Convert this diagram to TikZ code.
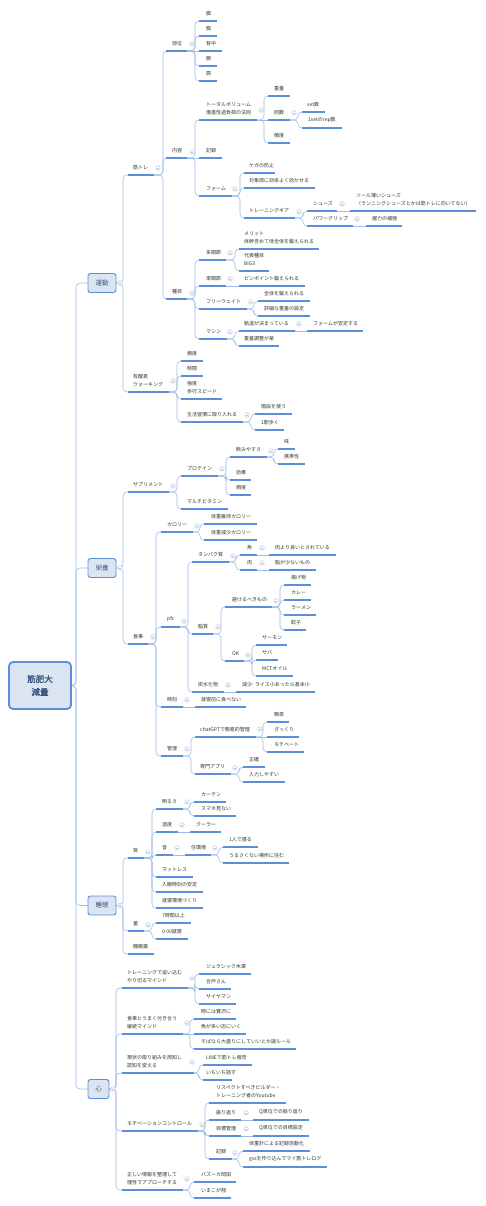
\documentclass[tikz,border=0pt]{standalone}
\usepackage{fontspec}
\newfontfamily\jp[AutoFakeBold=1.5]{Noto Sans CJK JP}
\pgfdeclarelayer{bg}
\pgfsetlayers{bg,main}
\definecolor{ulcol}{HTML}{5B8FD9}
\definecolor{cncol}{HTML}{9DBBE6}
\definecolor{ccol}{HTML}{AAC0DE}
\definecolor{boxfill}{HTML}{DBE4F1}
\definecolor{boxtext}{HTML}{3B5680}
\definecolor{textcol}{HTML}{333333}
\tikzset{
  ul/.style={draw=ulcol, line width=1.1pt},
  cnl/.style={draw=cncol, line width=0.6pt, rounded corners=4pt},
  tx/.style={anchor=south west, inner sep=0pt, align=left, text=textcol, font=\jp\fontsize{5}{8.3}\selectfont},
  cc/.style={circle, draw=ccol, line width=0.4pt, fill=white, minimum size=4.6pt, inner sep=0pt,
    path picture={\draw[ccol, line width=0.4pt] ([xshift=-1.2pt]path picture bounding box.center) -- ([xshift=1.2pt]path picture bounding box.center);}},
  mbox/.style={draw=ulcol, line width=0.9pt, fill=boxfill, rounded corners=2.5pt, text=boxtext,
    font=\jp\fontsize{6.5}{8}\selectfont, minimum width=28pt, minimum height=19pt, inner sep=0pt},
  rootbox/.style={draw=ulcol, line width=1.8pt, fill=boxfill, rounded corners=4pt, text=boxtext, align=center,
    font=\jp\bfseries\fontsize{8.5}{13}\selectfont, minimum width=62pt, minimum height=47pt, inner sep=0pt}
}
% leaf: name tx ly x1 x2 text
\newcommand\lfn[6]{%
  \coordinate (#1-s) at (#4,#3); \coordinate (#1-e) at (#5,#3);
  \draw[ul] (#1-s) -- (#1-e);
  \node[tx] (#1) at (#2,#3-5) {#6};}
% parent: name tx ly x1 x2 spine cx cy text
\newcommand\pnd[9]{%
  \lfn{#1}{#2}{#3}{#4}{#5}{#9}
  \coordinate (#1-sp) at (#6,#3);
  \node[cc] (#1-c) at (#7,#8) {};}
\newcommand\cnx[2]{\begin{pgfonlayer}{bg}\draw[cnl] (#1-e) -- (#1-sp) |- (#2-s);\end{pgfonlayer}}
\newcommand\cst[2]{\begin{pgfonlayer}{bg}\draw[cnl] (#1-e) -- (#2-s);\end{pgfonlayer}}
\newcommand\cbx[2]{\begin{pgfonlayer}{bg}\draw[cnl] (#1.east) -- (#1-sp) |- (#2-s);\end{pgfonlayer}}
\begin{document}
\begin{tikzpicture}[x=1pt, y=-1pt]
\begin{pgfonlayer}{bg}
\fill[white] (0,0) rectangle (485,1206);
\end{pgfonlayer}
\useasboundingbox (0,0) rectangle (485,1206);

% root and main branches
\node[rootbox] (root) at (40,685.5) {筋肥大\\減量};
\node[mbox] (undo) at (102,283) {運動};
\node[mbox] (eiyo) at (102,568) {栄養};
\node[mbox] (suimin) at (102,905.5) {睡眠};
\node[mbox, minimum width=21pt] (kokoro) at (98.5,1089) {心};
\coordinate (trunk) at (76,685.5);
\begin{pgfonlayer}{bg}
\draw[cnl] (root.east) -- (trunk) |- (undo.west);
\draw[cnl] (root.east) -- (trunk) |- (eiyo.west);
\draw[cnl] (root.east) -- (trunk) |- (suimin.west);
\draw[cnl] (root.east) -- (trunk) |- (kokoro.west);
\end{pgfonlayer}
\coordinate (undo-sp) at (123,283);
\coordinate (eiyo-sp) at (123,568);
\coordinate (suimin-sp) at (123,905.5);
\coordinate (kokoro-sp) at (116,1089);
\node[cc] (undo-c) at (120,283) {};
\node[cc] (eiyo-c) at (120,568) {};
\node[cc] (suimin-c) at (120,905.5) {};
\node[cc] (kokoro-c) at (113,1089) {};

% ===== 運動 =====
\pnd{kintore}{133}{175}{128}{154}{163}{158}{168}{筋トレ}
\pnd{bui}{172}{51}{166}{187}{195}{192}{44}{部位}
\lfn{ashi}{206}{21}{199}{217}{脚}
\lfn{mune}{206}{36}{199}{217}{胸}
\lfn{senaka}{206}{51}{199}{222}{背中}
\lfn{ude}{206}{66}{199}{217}{腕}
\lfn{kata}{206}{81}{199}{217}{肩}
\pnd{naiyo}{172}{158}{166}{187}{195}{192}{152}{内容}
\pnd{total}{206}{120}{199}{257}{264}{261}{110}{トータルボリューム\\漸進性過負荷の法則}
\lfn{juryo}{274}{96}{268}{290}{重量}
\pnd{kaisu}{274}{120}{268}{290}{298}{294}{113}{回数}
\lfn{setsu}{307}{112}{302}{325}{set数}
\lfn{rep}{308}{128}{302}{342}{1setのrep数}
\lfn{hindoa}{274}{143}{268}{290}{頻度}
\lfn{kirokua}{206}{158}{199}{222}{記録}
\pnd{form}{206}{196}{199}{232}{240}{235}{189}{フォーム}
\lfn{kega}{249}{173}{244}{275}{ケガの防止}
\lfn{taisho}{249}{188}{244}{315}{対象部に効率よく効かせる}
\pnd{gear}{249}{218}{244}{295}{303}{299}{212}{トレーニングギア}
\pnd{shoes}{313}{211}{307}{337}{343}{342}{204}{シューズ}
\lfn{sole}{356}{211}{350}{476}{ソール薄いシューズ\\（ランニングシューズとかは筋トレに向いてない）}
\pnd{grip}{313}{226}{307}{353}{360}{357}{219}{パワーグリップ}
\lfn{akuryoku}{372}{226}{366}{402}{握力の補強}
\pnd{shumoku}{172}{299}{166}{187}{195}{192}{293}{種目}
\pnd{takan}{206}{260}{199}{226}{235}{230}{253}{多関節}
\lfn{merit}{244}{249}{239}{319}{メリット\\体幹含めて体全体を鍛えられる}
\lfn{daihyo}{244}{271}{239}{269}{代表種目\\BIG3}
\pnd{tankan}{206}{286}{199}{226}{235}{230}{279}{単関節}
\lfn{pinpoint}{244}{286}{239}{305}{ピンポイント鍛えられる}
\pnd{free}{206}{309}{199}{247}{254}{251}{302}{フリーウェイト}
\lfn{zentai}{264}{301}{258}{310}{全体を鍛えられる}
\lfn{shosai}{264}{316}{258}{310}{詳細な重量の設定}
\pnd{machine}{206}{339}{199}{227}{235}{230}{332}{マシン}
\pnd{kido}{244}{331}{239}{295}{303}{299}{324}{軌道が決まっている}
\lfn{antei}{313}{331}{307}{363}{フォームが安定する}
\lfn{chosei}{244}{346}{239}{279}{重量調整が楽}
\pnd{yusanso}{133}{392}{128}{169}{177}{173}{381}{有酸素\\ウォーキング}
\lfn{hindob}{187}{361}{181}{203}{頻度}
\lfn{jikan}{187}{376}{181}{203}{時間}
\lfn{kyodo}{187}{399}{181}{222}{強度\\歩行スピード}
\pnd{seikatsu}{187}{422}{181}{243}{251}{247}{415}{生活習慣に取り入れる}
\lfn{kaidan}{261}{414}{255}{292}{階段を使う}
\lfn{ekiaruku}{261}{430}{255}{284}{1駅歩く}

\cbx{undo}{kintore} \cbx{undo}{yusanso}
\cnx{kintore}{bui} \cnx{kintore}{naiyo} \cnx{kintore}{shumoku}
\cnx{bui}{ashi} \cnx{bui}{mune} \cst{bui}{senaka} \cnx{bui}{ude} \cnx{bui}{kata}
\cnx{naiyo}{total} \cst{naiyo}{kirokua} \cnx{naiyo}{form}
\cnx{total}{juryo} \cst{total}{kaisu} \cnx{total}{hindoa}
\cnx{kaisu}{setsu} \cnx{kaisu}{rep}
\cnx{form}{kega} \cnx{form}{taisho} \cnx{form}{gear}
\cnx{gear}{shoes} \cnx{gear}{grip}
\cst{shoes}{sole} \cst{grip}{akuryoku}
\cnx{shumoku}{takan} \cnx{shumoku}{tankan} \cnx{shumoku}{free} \cnx{shumoku}{machine}
\cnx{takan}{merit} \cnx{takan}{daihyo}
\cst{tankan}{pinpoint}
\cnx{free}{zentai} \cnx{free}{shosai}
\cnx{machine}{kido} \cnx{machine}{chosei}
\cst{kido}{antei}
\cnx{yusanso}{hindob} \cnx{yusanso}{jikan} \cnx{yusanso}{kyodo} \cnx{yusanso}{seikatsu}
\cnx{seikatsu}{kaidan} \cnx{seikatsu}{ekiaruku}

% ===== 栄養 =====
\pnd{supple}{133}{492}{128}{169}{177}{173}{486}{サプリメント}
\pnd{protein}{187}{476}{181}{218}{226}{222}{469}{プロテイン}
\pnd{nomiyasu}{236}{457}{230}{267}{274}{271}{451}{飲みやすさ}
\lfn{aji}{284}{449}{278}{295}{味}
\lfn{keitai}{284}{464}{278}{305}{携帯性}
\lfn{koka}{236}{480}{230}{251}{効果}
\lfn{hindoc}{236}{495}{230}{251}{頻度}
\lfn{multi}{187}{509}{181}{228}{マルチビタミン}
\pnd{shokuji}{133}{644}{128}{148}{156}{153}{637}{食事}
\pnd{calorie}{167}{532}{161}{193}{200}{197}{526}{カロリー}
\lfn{iji}{211}{524}{204}{257}{体重維持カロリー}
\lfn{genshocal}{211}{540}{204}{257}{体重減少カロリー}
\pnd{pfc}{167}{627}{161}{180}{188}{184}{621}{pfc}
\pnd{tanpaku}{198}{562}{192}{229}{236}{233}{556}{タンパク質}
\pnd{sakana}{247}{555}{240}{257}{265}{262}{548}{魚}
\lfn{nikuyori}{275}{555}{269}{336}{肉より良いとされている}
\pnd{niku}{247}{570}{240}{257}{265}{262}{563}{肉}
\lfn{abura}{275}{570}{269}{316}{脂が少ないもの}
\pnd{shishitsu}{198}{634}{192}{213}{221}{218}{627}{脂質}
\pnd{sakeru}{232}{607}{225}{272}{280}{276}{601}{避けるべきもの}
\lfn{agemono}{291}{585}{284}{311}{揚げ物}
\lfn{curry}{291}{600}{284}{311}{カレー}
\lfn{ramen}{291}{615}{284}{316}{ラーメン}
\lfn{gyoza}{291}{630}{284}{306}{餃子}
\pnd{ok}{232}{661}{225}{244}{252}{248}{655}{OK}
\lfn{salmon}{262}{645}{256}{287}{サーモン}
\lfn{saba}{262}{660}{256}{278}{サバ}
\lfn{mct}{262}{676}{256}{293}{MCTオイル}
\pnd{tansui}{198}{692}{192}{224}{232}{228}{685}{炭水化物}
\lfn{gensho}{242}{692}{236}{315}{減少: ライス小あったら基本小}
\pnd{jikoku}{167}{707}{161}{183}{191}{187}{700}{時刻}
\lfn{shushin}{201}{707}{195}{246}{就寝前に食べない}
\pnd{kanri}{167}{756}{161}{183}{191}{187}{749}{管理}
\pnd{chatgpt}{200}{737}{195}{256}{263}{260}{729}{chatGPTで簡易的管理}
\lfn{kantan}{274}{722}{267}{289}{簡単}
\lfn{zakkuri}{274}{737}{267}{299}{ざっくり}
\lfn{motivate}{274}{752}{267}{304}{モチベート}
\pnd{senmon}{200}{774}{195}{231}{239}{235}{768}{専門アプリ}
\lfn{seikaku}{249}{767}{243}{265}{正確}
\lfn{nyuryoku}{249}{782}{243}{285}{入力しやすい}

\cbx{eiyo}{supple} \cbx{eiyo}{shokuji}
\cnx{supple}{protein} \cnx{supple}{multi}
\cnx{protein}{nomiyasu} \cnx{protein}{koka} \cnx{protein}{hindoc}
\cnx{nomiyasu}{aji} \cnx{nomiyasu}{keitai}
\cnx{shokuji}{calorie} \cnx{shokuji}{pfc} \cnx{shokuji}{jikoku} \cnx{shokuji}{kanri}
\cnx{calorie}{iji} \cnx{calorie}{genshocal}
\cnx{pfc}{tanpaku} \cnx{pfc}{shishitsu} \cnx{pfc}{tansui}
\cnx{tanpaku}{sakana} \cnx{tanpaku}{niku}
\cst{sakana}{nikuyori} \cst{niku}{abura}
\cnx{shishitsu}{sakeru} \cnx{shishitsu}{ok}
\cnx{sakeru}{agemono} \cnx{sakeru}{curry} \cnx{sakeru}{ramen} \cnx{sakeru}{gyoza}
\cnx{ok}{salmon} \cnx{ok}{saba} \cnx{ok}{mct}
\cst{tansui}{gensho} \cst{jikoku}{shushin}
\cnx{kanri}{chatgpt} \cnx{kanri}{senmon}
\cnx{chatgpt}{kantan} \cst{chatgpt}{zakkuri} \cnx{chatgpt}{motivate}
\cnx{senmon}{seikaku} \cnx{senmon}{nyuryoku}

% ===== 睡眠 =====
\pnd{shitsu}{133}{858}{128}{144}{152}{148}{852}{質}
\pnd{akarusa}{162}{809}{156}{183}{190}{187}{802}{明るさ}
\lfn{curtain}{201}{802}{194}{226}{カーテン}
\lfn{sumaho}{201}{816}{194}{236}{スマホ見ない}
\pnd{ondo}{162}{832}{156}{178}{186}{182}{825}{温度}
\lfn{cooler}{196}{832}{190}{221}{クーラー}
\pnd{oto}{162}{855}{156}{173}{181}{177}{848}{音}
\pnd{jukankyo}{191}{855}{185}{211}{219}{215}{848}{住環境}
\lfn{hitori}{229}{847}{223}{258}{1人で寝る}
\lfn{urusaku}{229}{863}{223}{289}{うるさくない場所に住む}
\lfn{mattress}{162}{877}{156}{193}{マットレス}
\lfn{nyumin}{162}{892}{156}{203}{入眠時刻の安定}
\lfn{shushinkankyo}{162}{908}{156}{203}{就寝環境づくり}
\pnd{ryo}{133}{931}{128}{144}{152}{148}{925}{量}
\lfn{nanajikan}{162}{923}{156}{191}{7時間以上}
\lfn{reiji}{162}{939}{156}{188}{0:00就寝}
\lfn{suiminyaku}{133}{954}{128}{154}{睡眠薬}

\cbx{suimin}{shitsu} \cbx{suimin}{ryo} \cbx{suimin}{suiminyaku}
\cnx{shitsu}{akarusa} \cnx{shitsu}{ondo} \cnx{shitsu}{oto} \cnx{shitsu}{mattress} \cnx{shitsu}{nyumin} \cnx{shitsu}{shushinkankyo}
\cnx{akarusa}{curtain} \cnx{akarusa}{sumaho}
\cst{ondo}{cooler} \cst{oto}{jukankyo}
\cnx{jukankyo}{hitori} \cnx{jukankyo}{urusaku}
\cnx{ryo}{nanajikan} \cnx{ryo}{reiji}

% ===== 心 =====
\pnd{oikomu}{127}{988}{122}{188}{195}{192}{978}{トレーニングで追い込む\\やり切るマインド}
\lfn{jurassic}{206}{974}{199}{251}{ジュラシック木澤}
\lfn{godo}{206}{989}{199}{231}{合戸さん}
\lfn{saiyaman}{206}{1004}{199}{236}{サイヤマン}
\pnd{keizoku}{127}{1034}{122}{183}{190}{187}{1023}{食事とうまく付き合う\\継続マインド}
\lfn{zeitaku}{201}{1019}{194}{236}{時には贅沢に}
\lfn{sakanaten}{201}{1034}{194}{246}{魚が多い店にいく}
\lfn{soba}{201}{1049}{194}{296}{そばなら大盛りにしていいとか謎ルール}
\pnd{shuchi}{127}{1073}{122}{194}{199}{192}{1062}{現状の取り組みを周知し\\認知を変える}
\lfn{line}{206}{1065}{203}{252}{LINEで筋トレ報告}
\lfn{ichiichi}{206}{1080}{203}{232}{いちいち話す}
\pnd{motivation}{127}{1131}{122}{198}{205}{202}{1125}{モチベーションコントロール}
\lfn{respect}{216}{1103}{209}{286}{リスペクトすべきビルダー・\\トレーニング者のYoutube}
\pnd{furikaeri}{216}{1120}{209}{241}{249}{246}{1113}{振り返り}
\lfn{qfuri}{259}{1120}{253}{309}{Q単位での振り返り}
\pnd{mokuhyo}{216}{1136}{209}{241}{249}{246}{1129}{目標管理}
\lfn{qmoku}{259}{1136}{253}{309}{Q単位での目標設定}
\pnd{kirokub}{216}{1159}{209}{232}{239}{235}{1153}{記録}
\lfn{taijukei}{249}{1151}{243}{310}{体重計による記録自動化}
\lfn{gss}{249}{1167}{243}{327}{gssを作り込んでマイ筋トレログ}
\pnd{tadashii}{127}{1190}{122}{183}{190}{187}{1179}{正しい情報を整理して\\理性でアプローチする}
\lfn{bazooka}{201}{1182}{194}{236}{バズーカ岡田}
\lfn{imakoga}{201}{1198}{194}{231}{いまこが翔}

\cbx{kokoro}{oikomu} \cbx{kokoro}{keizoku} \cbx{kokoro}{shuchi} \cbx{kokoro}{motivation} \cbx{kokoro}{tadashii}
\cnx{oikomu}{jurassic} \cnx{oikomu}{godo} \cnx{oikomu}{saiyaman}
\cnx{keizoku}{zeitaku} \cst{keizoku}{sakanaten} \cnx{keizoku}{soba}
\cnx{shuchi}{line} \cnx{shuchi}{ichiichi}
\cnx{motivation}{respect} \cnx{motivation}{furikaeri} \cnx{motivation}{mokuhyo} \cnx{motivation}{kirokub}
\cst{furikaeri}{qfuri} \cst{mokuhyo}{qmoku}
\cnx{kirokub}{taijukei} \cnx{kirokub}{gss}
\cnx{tadashii}{bazooka} \cnx{tadashii}{imakoga}
\end{tikzpicture}
\end{document}
